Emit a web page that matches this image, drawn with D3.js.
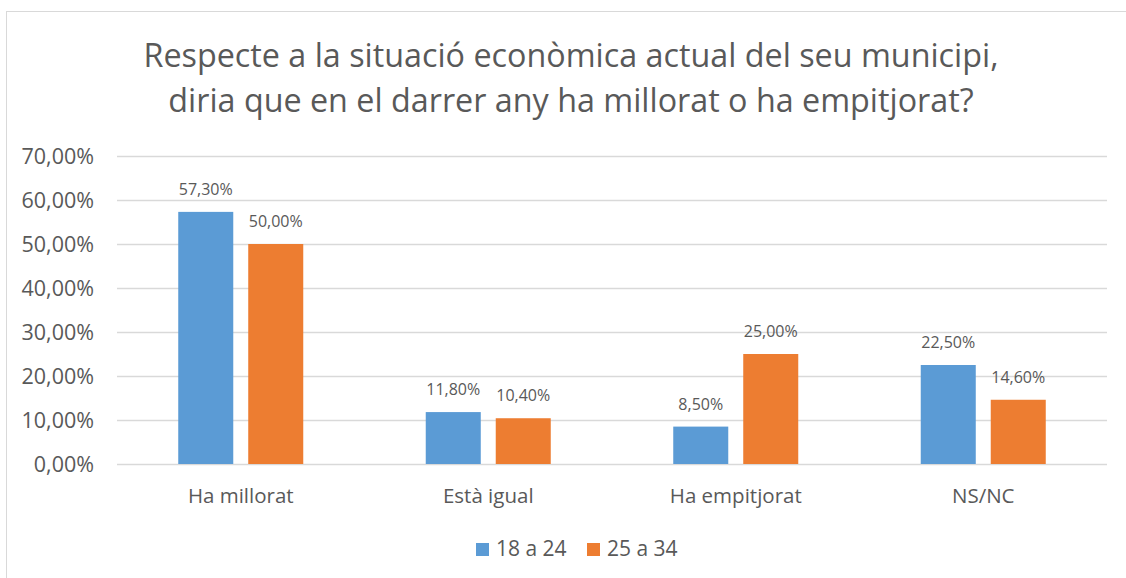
<!DOCTYPE html>
<html>
<head>
<meta charset="utf-8">
<script src="https://cdn.jsdelivr.net/npm/d3@7"></script>
<style>
  body { margin: 0; background: #fff; }
  svg text { font-family: "Open Sans", "Noto Sans", sans-serif; fill: #595959; }
</style>
</head>
<body>
<div id="chart"></div>
<script>
// data
const categories = ["Ha millorat", "Està igual", "Ha empitjorat", "NS/NC"];
const seriesNames = ["18 a 24", "25 a 34"];
const values18a24 = [57.3, 11.8, 8.5, 22.5];
const values25a34 = [50.0, 10.4, 25.0, 14.6];
const yTicks = [0, 10, 20, 30, 40, 50, 60, 70];
const titleLines = [
    "Respecte a la situació econòmica actual del seu municipi,",
    "diria que en el darrer any ha millorat o ha empitjorat?"
];
const colors = ["#5b9bd5", "#ed7d31"];

const width = 1126, height = 578;
const margin = { left: 117, right: 19, top: 156, bottom: 114 };

const fmt = v => d3.format(".2f")(v).replace(".", ",") + "%";

const svg = d3.select("#chart")
    .append("svg")
    .attr("width", width)
    .attr("height", height);

// chart border (only left/top edges visible in the frame)
svg.append("rect")
    .attr("x", 6.5).attr("y", 11.5)
    .attr("width", 1140).attr("height", 600)
    .attr("fill", "none")
    .attr("stroke", "#d9d9d9");

const x = d3.scaleBand()
    .domain(categories)
    .range([margin.left, width - margin.right]);

const xInner = d3.scaleBand()
    .domain(seriesNames)
    .range([0, x.bandwidth()])
    .paddingInner(0.214)
    .paddingOuter(0.875);

const y = d3.scaleLinear()
    .domain([0, 70])
    .range([height - margin.bottom, margin.top]);

// gridlines
svg.append("g")
    .selectAll("line")
    .data(yTicks)
    .enter()
    .append("line")
    .attr("x1", margin.left)
    .attr("x2", width - margin.right)
    .attr("y1", d => Math.round(y(d)) + 0.5)
    .attr("y2", d => Math.round(y(d)) + 0.5)
    .attr("stroke", "#d9d9d9")
    .attr("stroke-width", 1.3);

// y axis labels
const yAxis = d3.axisLeft(y)
    .tickValues(yTicks)
    .tickSize(0)
    .tickPadding(23)
    .tickFormat(fmt);

const yg = svg.append("g")
    .attr("transform", `translate(${margin.left},0)`)
    .call(yAxis);
yg.select(".domain").remove();
yg.selectAll("text").style("font-size", "21.5px").attr("dy", "0.35em");

// bars
const rows = categories.map((c, i) => ({ cat: c, vals: [values18a24[i], values25a34[i]] }));

const groups = svg.append("g")
    .selectAll("g")
    .data(rows)
    .enter()
    .append("g")
    .attr("transform", d => `translate(${x(d.cat)},0)`);

groups.selectAll("rect")
    .data(d => d.vals.map((v, j) => ({ name: seriesNames[j], v: v, j: j })))
    .enter()
    .append("rect")
    .attr("x", d => xInner(d.name))
    .attr("width", xInner.bandwidth())
    .attr("y", d => y(d.v))
    .attr("height", d => y(0) - y(d.v))
    .attr("fill", d => colors[d.j]);

groups.selectAll("text")
    .data(d => d.vals.map((v, j) => ({ name: seriesNames[j], v: v, j: j })))
    .enter()
    .append("text")
    .attr("x", d => xInner(d.name) + xInner.bandwidth() / 2)
    .attr("y", d => y(d.v) - 17)
    .attr("text-anchor", "middle")
    .style("font-size", "16px")
    .text(d => fmt(d.v));

// category labels
const xAxis = d3.axisBottom(x).tickSize(0).tickPadding(0);
const xg = svg.append("g")
    .attr("transform", `translate(0,${y(0)})`)
    .call(xAxis);
xg.select(".domain").remove();
xg.selectAll("text")
    .attr("y", 39)
    .attr("dy", 0)
    .style("font-size", "20.5px");

// title
svg.append("g")
    .selectAll("text")
    .data(titleLines)
    .enter()
    .append("text")
    .attr("x", 571)
    .attr("y", (d, i) => 67 + i * 45)
    .attr("text-anchor", "middle")
    .style("font-size", "32.3px")
    .text(d => d);

// legend
const legendX = [476, 587];
const legend = svg.append("g")
    .selectAll("g")
    .data(seriesNames)
    .enter()
    .append("g")
    .attr("transform", (d, i) => `translate(${legendX[i]},543)`);

legend.append("rect")
    .attr("width", 13)
    .attr("height", 13)
    .attr("fill", (d, i) => colors[i]);

legend.append("text")
    .attr("x", 20)
    .attr("y", 13)
    .style("font-size", "21px")
    .text(d => d);
</script>
</body>
</html>
